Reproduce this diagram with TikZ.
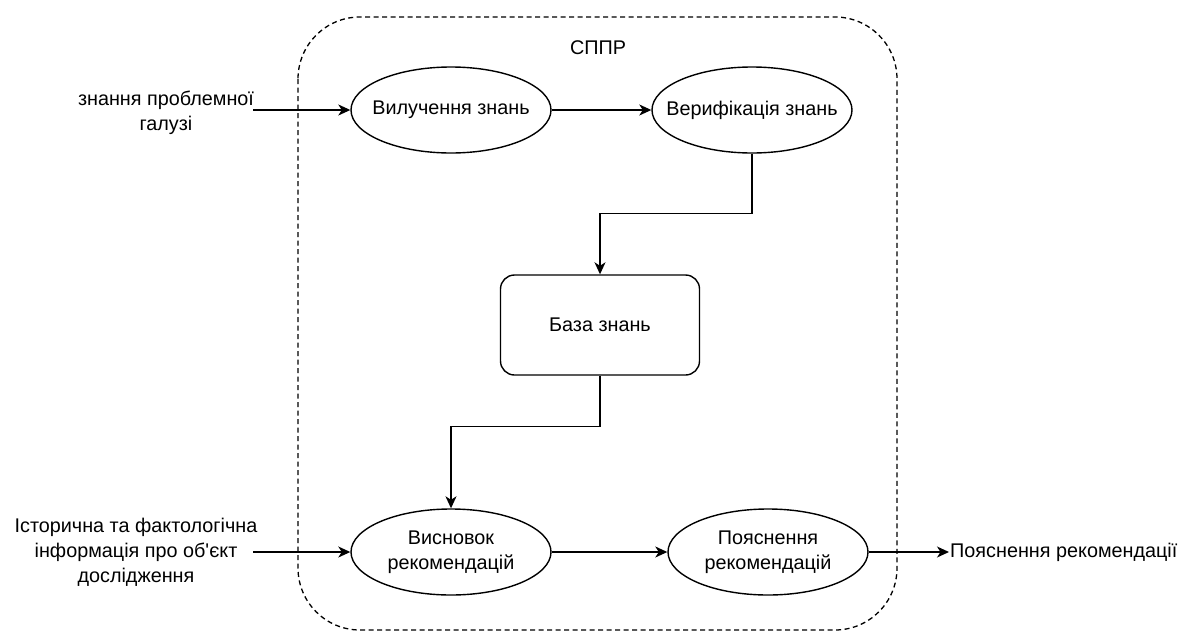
\documentclass[tikz,border=0pt]{standalone}
\usepackage{fontspec}
\setmainfont{Liberation Sans}
\usetikzlibrary{shapes.geometric,arrows.meta}

\begin{document}
\begin{tikzpicture}[x=1pt,y=-1pt,
  font=\fontsize{19.8}{25}\selectfont,
  proc/.style={ellipse,draw,line width=1.4pt,minimum width=200pt,minimum height=86pt,inner xsep=-35pt,inner ysep=-15pt,align=center},
  store/.style={rectangle,rounded corners=14pt,draw,line width=1.4pt,minimum width=199pt,minimum height=100pt,inner sep=0pt,align=center},
  plain/.style={inner sep=0pt,align=center},
  flow/.style={-{Stealth[length=12pt,width=11pt,inset=3.5pt]},line width=1.4pt},
  frame/.style={dash pattern=on 5pt off 3.5pt,line width=1.3pt,rounded corners=62pt}]
\useasboundingbox (0,0) rectangle (1184,632);

% decision support system boundary
\draw[frame] (298,17) rectangle (897,630);
\node[plain] (title) at (598,48) {СППР};

% processes
\node[proc] (extract) at (451,110) {Вилучення знань};
\node[proc] (verify) at (752,110) {Верифікація знань};
\node[store] (kb) at (600,325) {База знань};
\node[proc] (infer) at (451,552) {Висновок\\рекомендацій};
\node[proc] (explain) at (768,552) {Пояснення\\рекомендацій};

% external inputs and output
\node[plain] (domain) at (166,113) {знання проблемної\\галузі};
\node[plain] (facts) at (136,552) {Історична та фактологічна\\інформація про об\textquotesingle єкт\\дослідження};
\node[plain,anchor=west] (result) at (950,552) {Пояснення рекомендації};
\coordinate (domainout) at (253,110);
\coordinate (factsout) at (253,552);
\coordinate (resultin) at (949,552);

% flows
\draw[flow] (domainout) -- (extract);
\draw[flow] (extract) -- (verify);
\draw[flow] (verify.south) -- ++(0,60) -| (kb.north);
\draw[flow] (kb.south) -- ++(0,51) -| (infer.north);
\draw[flow] (factsout) -- (infer);
\draw[flow] (infer) -- (explain);
\draw[flow] (explain) -- (resultin);
\end{tikzpicture}
\end{document}
